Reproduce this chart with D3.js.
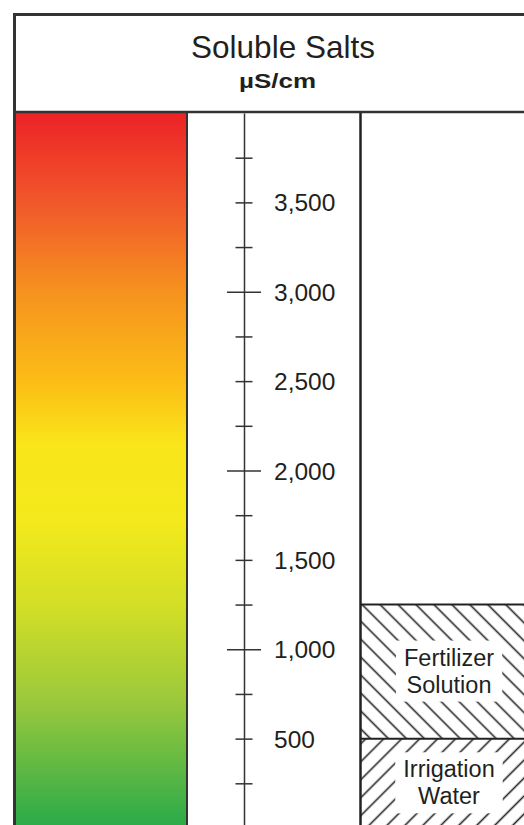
<!DOCTYPE html>
<html>
<head>
<meta charset="utf-8">
<script src="https://cdn.jsdelivr.net/npm/d3@7"></script>
<style>
  html, body { margin: 0; padding: 0; background: #fff; }
  svg { display: block; }
</style>
</head>
<body>
<svg id="chart" width="524" height="825"></svg>
<script>
// axis ticks and labels (µS/cm)
const tickValues = [250, 500, 750, 1000, 1250, 1500, 1750, 2000, 2250, 2500, 2750, 3000, 3250, 3500, 3750];
const majorTicks = [1000, 2000, 3000];
const labelValues = [500, 1000, 1500, 2000, 2500, 3000, 3500];
const labelTexts = ['500', '1,000', '1,500', '2,000', '2,500', '3,000', '3,500'];

// ranges shown as hatched boxes
const bandNames = [['Irrigation', 'Water'], ['Fertilizer', 'Solution']];
const bandLow = [0, 500];
const bandHigh = [500, 1250];
const bandHatch = ['fwd', 'back'];

const title = 'Soluble Salts';
const unit = 'µS/cm';

const ink = '#231f20';
const font = "'Liberation Sans', Arial, Helvetica, sans-serif";

const svg = d3.select('#chart');
svg.append('rect').attr('width', 524).attr('height', 825).attr('fill', '#fff');

const y = d3.scaleLinear().domain([0, 4000]).range([828, 113]);

const defs = svg.append('defs');
const grad = defs.append('linearGradient')
  .attr('id', 'salt')
  .attr('x1', 0).attr('y1', 0).attr('x2', 0).attr('y2', 1);
[
  [0, '#ec2227'],
  [0.13, '#f15a2b'],
  [0.25, '#f6921e'],
  [0.38, '#fcbf16'],
  [0.46, '#f9e51a'],
  [0.57, '#f3e91c'],
  [0.69, '#d2de26'],
  [0.82, '#9bc93c'],
  [1, '#27a94a'],
].forEach(([o, c]) => grad.append('stop').attr('offset', o).attr('stop-color', c));

function hatch(id, angle) {
  const p = defs.append('pattern')
    .attr('id', id)
    .attr('patternUnits', 'userSpaceOnUse')
    .attr('width', 12.7).attr('height', 12.7)
    .attr('patternTransform', `rotate(${angle})`);
  p.append('line')
    .attr('x1', -1).attr('x2', 14)
    .attr('y1', 6.35).attr('y2', 6.35)
    .attr('stroke', '#222').attr('stroke-width', 1.6);
}
hatch('back', 45);
hatch('fwd', -45);

// colour bar
svg.append('rect')
  .attr('x', 16).attr('y', y(4000))
  .attr('width', 170).attr('height', 830 - y(4000))
  .attr('fill', 'url(#salt)');
svg.append('line')
  .attr('x1', 187).attr('x2', 187).attr('y1', 112).attr('y2', 830)
  .attr('stroke', '#333').attr('stroke-width', 2);

// hatched ranges
const bands = svg.append('g');
bandNames.forEach((names, i) => {
  const top = y(bandHigh[i]);
  const bot = y(bandLow[i]);
  bands.append('rect')
    .attr('x', 361).attr('y', top)
    .attr('width', 176).attr('height', bot - top)
    .attr('fill', `url(#${bandHatch[i]})`);
  bands.append('line')
    .attr('x1', 361).attr('x2', 600)
    .attr('y1', top).attr('y2', top)
    .attr('stroke', '#222').attr('stroke-width', 2);

  const mid = (top + bot) / 2;
  const lbl = bands.append('g');
  const bg = lbl.append('rect').attr('fill', '#fff');
  const txt = lbl.append('text')
    .attr('x', 449)
    .attr('text-anchor', 'middle')
    .attr('font-family', font)
    .attr('font-size', 23.5)
    .attr('fill', ink);
  names.forEach((n, k) => {
    txt.append('tspan')
      .attr('x', 449)
      .attr('y', mid + 7.5 + (k - 0.5) * 27)
      .text(n);
  });
  const bb = txt.node().getBBox();
  bg.attr('x', bb.x - 8).attr('y', bb.y - 4)
    .attr('width', bb.width + 16).attr('height', bb.height + 8);
});

// separator between scale and boxes
svg.append('line')
  .attr('x1', 360.5).attr('x2', 360.5).attr('y1', 112).attr('y2', 830)
  .attr('stroke', '#222').attr('stroke-width', 2.5);

// axis
const axis = svg.append('g')
  .attr('transform', 'translate(244,0)')
  .call(d3.axisRight(y)
    .tickValues(tickValues)
    .tickSizeOuter(0)
    .tickFormat(d => {
      const i = labelValues.indexOf(d);
      return i < 0 ? '' : labelTexts[i];
    }));
axis.select('.domain').attr('stroke', '#333').attr('stroke-width', 1.5);
axis.selectAll('.tick line')
  .attr('stroke', '#333').attr('stroke-width', 1.5)
  .attr('x1', d => majorTicks.includes(d) ? -17 : -8.5)
  .attr('x2', d => majorTicks.includes(d) ? 17 : 8.5);
axis.selectAll('.tick text')
  .attr('x', 30)
  .attr('dy', '0.35em')
  .attr('font-family', font)
  .attr('font-size', 24.5)
  .attr('fill', ink);

// header and frame
svg.append('text')
  .attr('x', 283).attr('y', 57.5)
  .attr('text-anchor', 'middle')
  .attr('font-family', font)
  .attr('font-size', 31.5)
  .attr('fill', ink)
  .text(title);
svg.append('text')
  .attr('x', 277.5).attr('y', 88)
  .attr('text-anchor', 'middle')
  .attr('font-family', font)
  .attr('font-weight', 'bold')
  .attr('font-size', 21)
  .attr('textLength', 77)
  .attr('lengthAdjust', 'spacingAndGlyphs')
  .attr('fill', ink)
  .text(unit);

svg.append('line')
  .attr('x1', 14.5).attr('x2', 600).attr('y1', 112).attr('y2', 112)
  .attr('stroke', '#333').attr('stroke-width', 2.5);
svg.append('rect')
  .attr('x', 14.5).attr('y', 14.5)
  .attr('width', 560).attr('height', 900)
  .attr('fill', 'none')
  .attr('stroke', '#333').attr('stroke-width', 3);
</script>
</body>
</html>
